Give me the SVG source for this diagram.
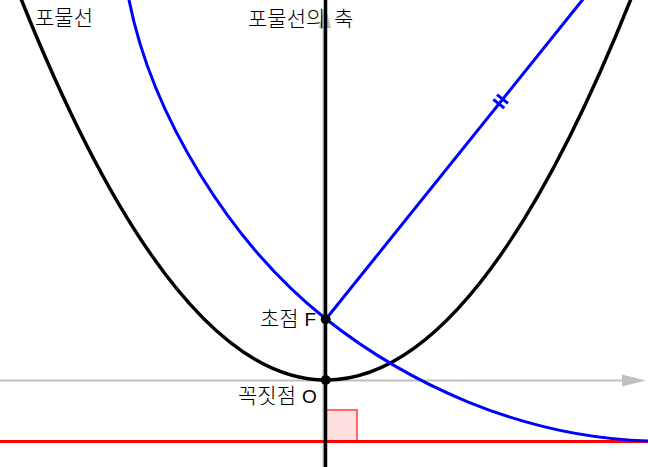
<svg xmlns="http://www.w3.org/2000/svg" width="648" height="467" viewBox="0 0 648 467">
<style>
.axis{stroke:#c0c0c0;stroke-width:2;fill:none}
.arrow{fill:#c0c0c0}
.blk{stroke:#000;stroke-width:3.5;fill:none}
.blue{stroke:#0000ff;stroke-width:3;fill:none}
.lbl{font-family:"Noto Sans CJK KR","Noto Sans",sans-serif;font-size:21px;font-weight:300;fill:#000}
.lat{font-family:"Liberation Sans",Arial,sans-serif;font-size:19px;font-weight:400}
</style>
<rect width="648" height="467" fill="#fff"/>
<g id="axes">
<line class="axis" x1="0" y1="380.5" x2="624" y2="380.5"/>
<polygon class="arrow" points="646,380.5 622,374.5 622,386.5"/>
<line class="axis" x1="323.5" y1="467" x2="323.5" y2="26"/>
<polygon class="arrow" points="325,4 319,28 331,28"/>
</g>
<g id="directrix">
<rect x="326" y="410" width="31" height="31" fill="#ffe0e0" stroke="#ff6666" stroke-width="2"/>
<line x1="0" y1="441.5" x2="648" y2="441.5" stroke="#ff0000" stroke-width="3"/>
</g>
<g id="parabola">
<path class="blk" d="M17.5,-10 Q326,770 634.5,-10"/>
</g>
<g id="blue-curve">
<path class="blue" d="M128.5,-2 L129,0 C152.5,117.6 231.8,244.6 326,319 C404.5,381 518,437.1 648,441"/>
</g>
<g id="connectors">
<line class="blue" x1="326" y1="319" x2="584" y2="-2"/>
<line class="blue" x1="493.3" y1="99.3" x2="504.3" y2="108.1"/>
<line class="blue" x1="497.0" y1="94.6" x2="508.0" y2="103.4"/>
</g>
<g id="axis-line">
<line class="blk" x1="325.5" y1="0" x2="325.5" y2="467"/>
</g>
<g id="focus">
<circle cx="325.7" cy="319.3" r="5" fill="#000"/>
<text class="lbl" x="260" y="326">초점 <tspan class="lat" x="304.5">F</tspan></text>
</g>
<g id="vertex">
<circle cx="325.7" cy="380" r="5" fill="#000"/>
<text class="lbl" x="238" y="403">꼭짓점 <tspan class="lat" x="302">O</tspan></text>
</g>
<g id="labels">
<text class="lbl" x="35" y="25">포물선</text>
<text class="lbl" x="248" y="26">포물선의<tspan x="334">축</tspan></text>
</g>
</svg>
